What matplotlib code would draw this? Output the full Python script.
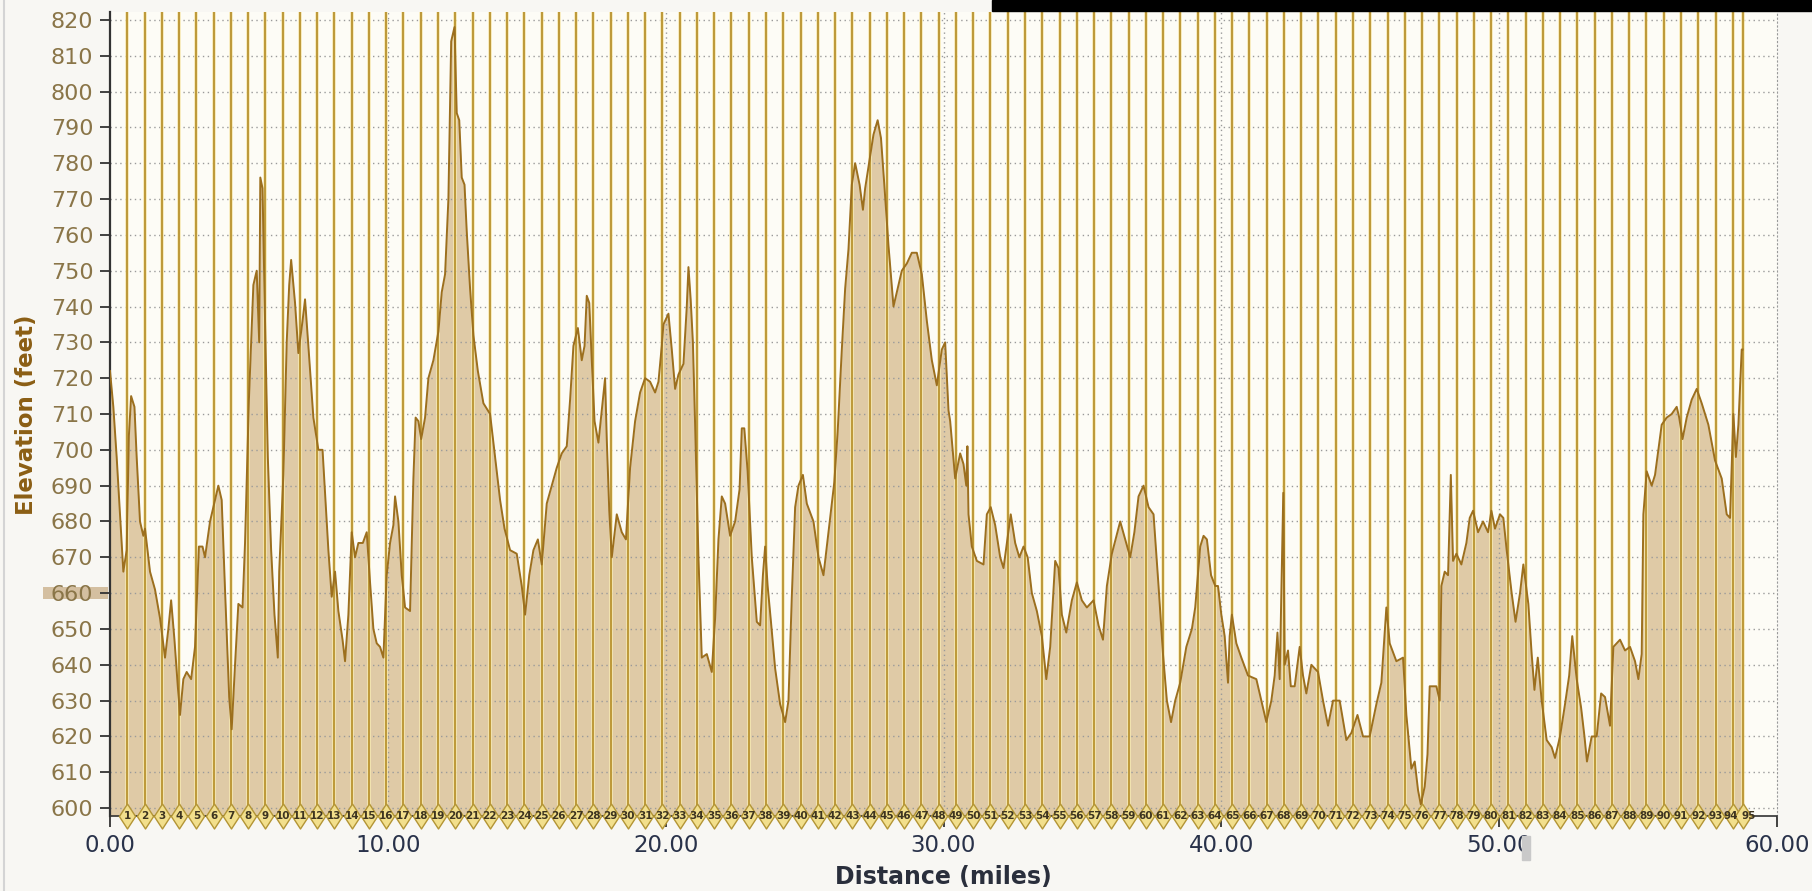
"""
Elevation profile with km lap markers
output: out.png
"""

import numpy as np
import matplotlib
matplotlib.use("Agg")
import matplotlib.pyplot as plt
from matplotlib.patches import Rectangle

OUTPUT_PNG = "out.png"

# distance (miles) / elevation (feet)
DIST = [
    0.00, 0.12, 0.24, 0.36, 0.48, 0.60, 0.68, 0.76, 0.88, 0.96, 1.08, 1.20, 1.26, 1.44, 1.62,
    1.80, 1.98, 2.10, 2.20, 2.32, 2.44, 2.52, 2.64, 2.76, 2.92, 3.06, 3.20, 3.33, 3.42, 3.60,
    3.78, 3.90, 4.02, 4.14, 4.29, 4.38, 4.50, 4.62, 4.77, 4.86, 5.00, 5.16, 5.28, 5.37, 5.41,
    5.49, 5.58, 5.68, 5.80, 5.92, 6.04, 6.09, 6.24, 6.36, 6.45, 6.52, 6.66, 6.78, 6.93, 7.02,
    7.14, 7.32, 7.50, 7.65, 7.74, 7.86, 7.98, 8.10, 8.22, 8.37, 8.46, 8.58, 8.70, 8.82, 8.94,
    9.10, 9.24, 9.36, 9.48, 9.60, 9.72, 9.84, 9.96, 10.08, 10.20, 10.26, 10.38, 10.50, 10.62, 10.80,
    10.92, 11.00, 11.10, 11.20, 11.34, 11.46, 11.64, 11.82, 11.94, 12.06, 12.18, 12.28, 12.40, 12.48, 12.57,
    12.66, 12.76, 12.84, 12.96, 13.08, 13.24, 13.44, 13.68, 13.86, 14.04, 14.20, 14.40, 14.64, 14.82, 14.94,
    15.09, 15.24, 15.40, 15.54, 15.72, 15.90, 16.08, 16.26, 16.44, 16.56, 16.68, 16.84, 16.98, 17.08, 17.16,
    17.25, 17.34, 17.44, 17.58, 17.70, 17.82, 17.88, 17.97, 18.06, 18.24, 18.42, 18.57, 18.72, 18.90, 19.08,
    19.26, 19.44, 19.62, 19.74, 19.86, 19.92, 20.10, 20.22, 20.34, 20.46, 20.64, 20.76, 20.82, 20.90, 20.98,
    21.06, 21.18, 21.30, 21.48, 21.66, 21.78, 21.90, 22.02, 22.14, 22.32, 22.50, 22.66, 22.74, 22.83, 22.95,
    23.10, 23.28, 23.40, 23.50, 23.58, 23.67, 23.79, 23.94, 24.12, 24.30, 24.42, 24.54, 24.66, 24.78, 24.94,
    25.08, 25.32, 25.50, 25.68, 25.80, 25.95, 26.07, 26.19, 26.34, 26.46, 26.58, 26.70, 26.82, 26.98, 27.10,
    27.18, 27.30, 27.48, 27.63, 27.75, 27.87, 28.02, 28.20, 28.35, 28.50, 28.68, 28.86, 29.04, 29.22, 29.40,
    29.58, 29.76, 29.94, 30.06, 30.18, 30.24, 30.42, 30.60, 30.72, 30.82, 30.86, 30.90, 31.02, 31.20, 31.44,
    31.56, 31.70, 31.86, 32.04, 32.16, 32.28, 32.42, 32.58, 32.73, 32.88, 33.03, 33.18, 33.36, 33.54, 33.70,
    33.84, 34.02, 34.14, 34.26, 34.42, 34.62, 34.80, 34.98, 35.16, 35.40, 35.58, 35.74, 35.88, 36.06, 36.36,
    36.54, 36.72, 36.87, 37.02, 37.20, 37.38, 37.56, 37.74, 37.90, 38.04, 38.19, 38.34, 38.52, 38.74, 38.94,
    39.06, 39.24, 39.36, 39.48, 39.63, 39.78, 39.88, 40.00, 40.12, 40.24, 40.30, 40.38, 40.54, 40.72, 40.96,
    41.26, 41.44, 41.62, 41.80, 41.92, 42.02, 42.10, 42.23, 42.28, 42.40, 42.50, 42.64, 42.82, 42.94, 43.06,
    43.24, 43.48, 43.66, 43.84, 44.02, 44.26, 44.50, 44.68, 44.90, 45.10, 45.34, 45.58, 45.76, 45.94, 46.06,
    46.30, 46.54, 46.66, 46.78, 46.84, 46.96, 47.08, 47.18, 47.32, 47.42, 47.50, 47.74, 47.86, 47.92, 48.04,
    48.16, 48.26, 48.34, 48.46, 48.64, 48.82, 48.94, 49.06, 49.24, 49.42, 49.60, 49.72, 49.85, 50.03, 50.15,
    50.27, 50.45, 50.59, 50.75, 50.87, 51.05, 51.17, 51.27, 51.39, 51.53, 51.71, 51.89, 52.01, 52.19, 52.37,
    52.52, 52.63, 52.79, 52.95, 53.07, 53.16, 53.33, 53.51, 53.67, 53.81, 53.99, 54.11, 54.35, 54.53, 54.71,
    54.89, 55.01, 55.13, 55.19, 55.31, 55.49, 55.61, 55.73, 55.85, 56.03, 56.21, 56.39, 56.48, 56.60, 56.75,
    56.93, 57.11, 57.29, 57.53, 57.77, 58.01, 58.19, 58.31, 58.43, 58.52, 58.61, 58.73, 58.76,
]
ELEV = [
    722, 712, 698, 682, 666, 672, 704, 715, 712, 698, 680, 676, 678, 666, 661,
    653, 642, 650, 658, 647, 634, 626, 636, 638, 636, 645, 673, 673, 670, 680,
    686, 690, 686, 661, 631, 622, 640, 657, 656, 674, 714, 746, 750, 730, 776,
    773, 736, 698, 672, 654, 642, 666, 693, 730, 746, 753, 741, 727, 736, 742,
    729, 709, 700, 700, 688, 672, 659, 666, 655, 647, 641, 654, 677, 670, 674,
    674, 677, 663, 650, 646, 645, 642, 665, 674, 679, 687, 680, 665, 656, 655,
    692, 709, 708, 703, 709, 720, 725, 733, 744, 749, 770, 814, 818, 794, 792,
    776, 774, 761, 745, 732, 722, 713, 710, 698, 686, 678, 672, 671, 662, 654,
    665, 672, 675, 668, 685, 690, 695, 699, 701, 714, 729, 734, 725, 729, 743,
    741, 725, 708, 702, 711, 720, 703, 683, 670, 682, 677, 675, 695, 708, 716,
    720, 719, 716, 719, 729, 735, 738, 728, 717, 721, 724, 740, 751, 742, 730,
    707, 670, 642, 643, 638, 653, 675, 687, 685, 676, 680, 689, 706, 706, 694,
    670, 652, 651, 665, 673, 662, 652, 639, 629, 624, 630, 659, 684, 690, 693,
    685, 680, 670, 665, 673, 683, 691, 705, 728, 745, 756, 774, 780, 774, 767,
    773, 779, 788, 792, 787, 774, 757, 740, 745, 750, 752, 755, 755, 749, 736,
    725, 718, 728, 730, 711, 708, 692, 699, 696, 690, 701, 682, 673, 669, 668,
    682, 684, 679, 670, 667, 674, 682, 674, 670, 673, 670, 660, 655, 648, 636,
    645, 669, 667, 654, 649, 658, 663, 658, 656, 658, 651, 647, 662, 671, 680,
    675, 670, 677, 687, 690, 684, 682, 662, 643, 630, 624, 630, 635, 645, 650,
    656, 673, 676, 675, 665, 662, 662, 654, 648, 635, 648, 654, 646, 642, 637,
    636, 630, 624, 630, 637, 649, 636, 688, 640, 644, 634, 634, 645, 637, 632,
    640, 638, 630, 623, 630, 630, 619, 621, 626, 620, 620, 629, 635, 656, 646,
    641, 642, 626, 616, 611, 613, 605, 601, 606, 615, 634, 634, 630, 662, 666,
    665, 693, 669, 671, 668, 674, 681, 683, 677, 680, 677, 683, 678, 682, 681,
    672, 660, 652, 660, 668, 657, 643, 633, 642, 630, 619, 617, 614, 620, 629,
    637, 648, 636, 628, 620, 613, 620, 620, 632, 631, 623, 645, 647, 644, 645,
    641, 636, 643, 682, 694, 690, 693, 700, 707, 709, 710, 712, 709, 703, 709,
    714, 717, 713, 707, 697, 692, 682, 681, 710, 698, 707, 728, 728,
]

# lap markers: every kilometre, plus the end of the track
LAP_KM = list(range(1, 95))
TRACK_END_MI = 58.79
KM_TO_MI = 0.621371

X_TICKS = [0, 10, 20, 30, 40, 50, 60]
Y_TICKS = list(range(600, 821, 10))

FILL_COLOR = "#dfcaa6"
LINE_COLOR = "#9c6f1e"
LAP_DARK = "#b8922f"
LAP_LIGHT = "#f6e8b2"
GRID_COLOR = "#9a9a9a"
YTICK_COLOR = "#8a7548"
XTICK_COLOR = "#29324a"


def main():
    W, H = 1812, 891
    fig = plt.figure(figsize=(W / 100, H / 100), dpi=100, facecolor="#f8f7f3")
    ax = fig.add_axes([110 / W, 1 - 816 / H, (1777 - 110) / W, (816 - 12) / H])
    ax.set_facecolor("#fdfcf6")

    ymin, ymax = 597.8, 822.2
    ax.set_xlim(0, 60)
    ax.set_ylim(ymin, ymax)

    # profile
    ax.fill_between(DIST, ELEV, ymin, color=FILL_COLOR, lw=0, zorder=1)
    ax.plot(DIST, ELEV, color=LINE_COLOR, lw=1.4, zorder=5)

    # 格線
    for yv in Y_TICKS:
        ax.axhline(yv, color=GRID_COLOR, lw=1.0, ls=(0, (1, 2.5)), zorder=2)
    for xv in X_TICKS[1:-1]:
        ax.axvline(xv, color=GRID_COLOR, lw=1.0, ls=(0, (1, 2.5)), zorder=2)

    # lap lines + diamond markers
    lap_x = [k * KM_TO_MI for k in LAP_KM] + [TRACK_END_MI]
    lap_lbl = [str(k) for k in LAP_KM] + [str(LAP_KM[-1] + 1)]
    ax.vlines(lap_x, ymin, ymax, color=LAP_LIGHT, lw=2.6, zorder=4)
    ax.vlines(lap_x, ymin, ymax, color=LAP_DARK, lw=1.3, zorder=4)

    diamond = [(0, 1), (0.65, 0), (0, -1), (-0.65, 0), (0, 1)]
    ax.plot(lap_x, [ymin] * len(lap_x), ls="none", marker=diamond, ms=18,
            mfc="#f2df8c", mec="#b39536", mew=1.0, zorder=6, clip_on=False)
    for i, (x, t) in enumerate(zip(lap_x, lap_lbl)):
        # the last two markers sit close together: push the end label right a bit
        dx = 5 if i == len(lap_x) - 1 else (-2 if i == len(lap_x) - 2 else 0)
        ax.annotate(t, (x, ymin), xytext=(dx, 0), textcoords="offset pixels",
                    ha="center", va="center", fontsize=7.5, fontweight="bold",
                    color="#3d3420", zorder=7, annotation_clip=False)

    # spines / ticks
    ax.spines["top"].set_visible(False)
    ax.spines["right"].set_color(GRID_COLOR)
    ax.spines["right"].set_linestyle((0, (1, 2.5)))
    ax.spines["left"].set_color("#333333")
    ax.spines["left"].set_linewidth(1.6)
    ax.spines["bottom"].set_color("#333333")
    ax.spines["bottom"].set_linewidth(1.2)

    ax.set_xticks(X_TICKS)
    ax.set_xticklabels([f"{v:.2f}" for v in X_TICKS])
    ax.set_yticks(Y_TICKS)
    ax.set_yticklabels([str(v) for v in Y_TICKS])
    ax.tick_params(axis="y", length=7, width=1.3, color="#333333", pad=5,
                   labelsize=16, labelcolor=YTICK_COLOR)
    ax.tick_params(axis="x", length=8, width=1.3, color="#333333", pad=5,
                   labelsize=16.5, labelcolor=XTICK_COLOR)

    fig.text(943 / W, 1 - 877 / H, "Distance (miles)", ha="center", va="center",
             fontsize=17, fontweight="bold", color="#2a2f3c")
    fig.text(27 / W, 0.535, "Elevation (feet)", ha="center", va="center",
             rotation=90, fontsize=16.5, fontweight="bold", color="#8b5e14")

    # y cursor at 660 on the axis
    ax.add_patch(Rectangle((-0.040, 658.3), 0.039, 3.4, transform=ax.get_yaxis_transform(),
                           color="#c9ad84", alpha=0.75, lw=0, clip_on=False, zorder=0))

    # window bits of the screenshot
    fig.patches.append(Rectangle((992 / W, 1 - 11 / H), 1 - 992 / W, 11 / H,
                                 transform=fig.transFigure, color="black", zorder=10))
    fig.patches.append(Rectangle((1522 / W, 1 - 860 / H), 8 / W, 24 / H,
                                 transform=fig.transFigure, color="#c9c9c9", zorder=10))
    fig.lines.append(plt.Line2D([4 / W, 4 / W], [0, 1], transform=fig.transFigure,
                                color="#d4d4d4", lw=1.5))

    fig.savefig(OUTPUT_PNG, dpi=100, facecolor=fig.get_facecolor())
    plt.close(fig)
    print(f"輸出：{OUTPUT_PNG}")


if __name__ == "__main__":
    main()
